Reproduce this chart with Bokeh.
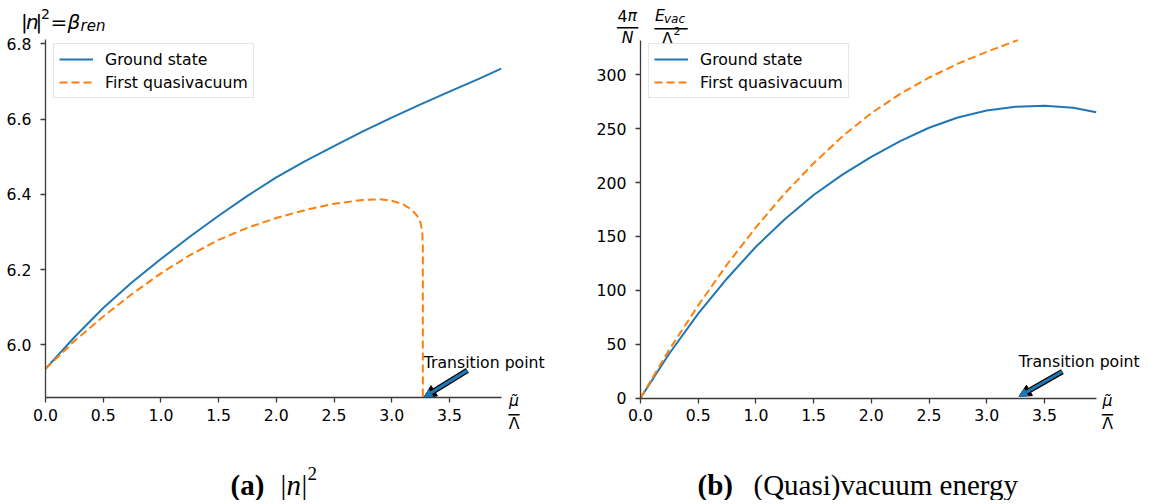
from bokeh.plotting import figure
from bokeh.layouts import row
from bokeh.models import (Range1d, FixedTicker, PrintfTickFormatter, Label, Arrow,
                          NormalHead, Legend, LegendItem, LinearAxis)
from bokeh.embed import file_html
from bokeh.resources import INLINE

# ---------------- data ----------------
series_names = ["Ground state", "First quasivacuum"]

# (a) |n|^2
mu_a_ground = [0.0, 0.25, 0.5, 0.75, 1.0, 1.25, 1.5, 1.75, 2.0, 2.25, 2.5, 2.75,
               3.0, 3.25, 3.5, 3.75, 3.949]
n2_ground = [5.936, 6.02, 6.098, 6.166, 6.228, 6.287, 6.343, 6.396, 6.445, 6.488,
             6.528, 6.567, 6.604, 6.639, 6.673, 6.706, 6.734]
mu_a_quasi = [0.0, 0.25, 0.5, 0.75, 1.0, 1.25, 1.5, 1.75, 2.0, 2.25, 2.5, 2.75,
              2.9, 3.0, 3.1, 3.17, 3.22, 3.25, 3.265, 3.27, 3.27]
n2_quasi = [5.936, 6.01, 6.075, 6.135, 6.19, 6.238, 6.279, 6.311, 6.337, 6.358,
            6.375, 6.385, 6.387, 6.383, 6.373, 6.36, 6.343, 6.325, 6.30, 6.26, 5.859]

# (b) (Quasi)vacuum energy
mu_b_ground = [0.0, 0.25, 0.5, 0.75, 1.0, 1.25, 1.5, 1.75, 2.0, 2.25, 2.5, 2.75,
               3.0, 3.25, 3.5, 3.75, 3.949]
e_ground = [0.0, 41.3, 78.3, 111.0, 140.5, 166.0, 188.5, 207.5, 224.0, 238.5,
            251.0, 260.5, 267.0, 270.5, 271.5, 269.5, 265.4]
mu_b_quasi = [0.0, 0.25, 0.5, 0.75, 1.0, 1.25, 1.5, 1.75, 2.0, 2.25, 2.5, 2.75,
              3.0, 3.27]
e_quasi = [0.0, 45.0, 86.0, 124.0, 158.5, 190.0, 218.0, 243.0, 264.5, 282.5,
           297.5, 310.5, 321.5, 332.4]

x_ticks = [0.0, 0.5, 1.0, 1.5, 2.0, 2.5, 3.0, 3.5]
a_y_ticks = [6.0, 6.2, 6.4, 6.6, 6.8]
b_y_ticks = [0, 50, 100, 150, 200, 250, 300]
x_bounds = (0.0, 3.949)
a_y_bounds = (5.859, 6.811)
b_y_bounds = (0.0, 332.1)

# transition point annotation (data coordinates)
trans_text_x = 3.278
trans_head_x = 3.28
trans_tail_x = 3.656
a_text_y, a_head_y, a_tail_y = 5.954, 5.861, 5.932
b_text_y, b_head_y, b_tail_y = 33.9, 1.5, 24.6

# ---------------- style / layout ----------------
BLUE = "#1f77b4"
ORANGE = "#ff7f0e"
FONT = "DejaVu Sans"
SERIF = "Liberation Serif"
FS = "15.7px"
AXC = "#3a3a3a"
H = 500
W1, W2 = 575, 574
CL1, CL2 = 0, 575          # page x of each canvas' left edge
SX = 115.4                  # px per unit of mu/Lambda


def x_range_for(cl, w, x0):
    return Range1d((cl - x0) / SX, (cl + w - x0) / SX)


def y_range_for(yref, py, s):
    return Range1d(yref + (py - H) / s, yref + py / s)


def make_fig(w, xr, yr, xloc, yloc, ybounds, yticks, yfmt):
    p = figure(width=w, height=H, x_range=xr, y_range=yr, output_backend="svg",
               toolbar_location=None, min_border=0, x_axis_location=None,
               y_axis_location=None)
    p.grid.visible = False
    p.outline_line_color = None
    xa = LinearAxis(fixed_location=xloc, bounds=x_bounds,
                    ticker=FixedTicker(ticks=x_ticks),
                    formatter=PrintfTickFormatter(format="%.1f"))
    ya = LinearAxis(fixed_location=yloc, bounds=ybounds,
                    ticker=FixedTicker(ticks=yticks),
                    formatter=PrintfTickFormatter(format=yfmt))
    for ax in (xa, ya):
        ax.axis_line_color = AXC
        ax.axis_line_width = 1.3
        ax.major_tick_line_color = AXC
        ax.major_tick_line_width = 1.3
        ax.major_tick_in = 0
        ax.major_tick_out = 5
        ax.minor_tick_line_color = None
        ax.major_label_text_font = FONT
        ax.major_label_text_font_size = FS
        ax.major_label_text_color = "black"
    xa.major_label_standoff = 6
    ya.major_label_standoff = 9
    p.add_layout(xa, "below")
    p.add_layout(ya, "left")
    return p


def add_lines(p, cl, legend_left, xg, yg, xq, yq):
    r1 = p.line(xg, yg, line_color=BLUE, line_width=2)
    r2 = p.line(xq, yq, line_color=ORANGE, line_width=2, line_dash="8 4")
    # tuple location = bottom-left corner of the legend box (frame px)
    leg = Legend(items=[LegendItem(label=series_names[0], renderers=[r1]),
                        LegendItem(label=series_names[1], renderers=[r2])],
                 location=(legend_left - cl, H - 98),
                 margin=0, padding=5, spacing=3,
                 glyph_width=34, glyph_height=20, label_height=20,
                 label_standoff=12, label_text_font=FONT,
                 label_text_font_size=FS, label_text_color="black",
                 border_line_color="#cccccc", border_line_width=1,
                 background_fill_alpha=0.8)
    p.add_layout(leg)


def lab(p, cl, text, px, py, size=FS, style="normal", font=FONT, align="left"):
    p.add_layout(Label(x=px - cl, y=H - py, x_units="screen", y_units="screen",
                       text=text, text_font=font, text_font_size=size,
                       text_font_style=style, text_align=align,
                       text_baseline="alphabetic", text_color="black"))


def transition(p, ty, hy, tly):
    p.add_layout(Label(x=trans_text_x, y=ty, text="Transition point",
                       text_font=FONT, text_font_size=FS, text_color="black",
                       text_baseline="alphabetic"))
    p.add_layout(Arrow(end=NormalHead(size=12, fill_color="black",
                                      line_color="black", line_width=1),
                       x_start=trans_tail_x, y_start=tly, x_end=trans_head_x,
                       y_end=hy, line_color="black", line_width=5.5))
    p.add_layout(Arrow(end=NormalHead(size=8, fill_color=BLUE,
                                      line_color=BLUE, line_width=1),
                       x_start=trans_tail_x, y_start=tly, x_end=trans_head_x,
                       y_end=hy, line_color=BLUE, line_width=3))


def xlabel(p, cl, cx):
    lab(p, cl, "\u03bc\u0303", cx, 399.5, style="italic", align="center")
    lab(p, cl, "\u2500", cx, 413.5, size="18px", font="DejaVu Sans Mono",
        align="center")
    lab(p, cl, "\u039b", cx, 422.5, align="center")


# ---------------- panel (a) ----------------
p1 = make_fig(W1, x_range_for(CL1, W1, 45.0), y_range_for(6.0, 344.3, 376.25),
              a_y_bounds[0], 0.0, a_y_bounds, a_y_ticks, "%.1f")
add_lines(p1, CL1, 53, mu_a_ground, n2_ground, mu_a_quasi, n2_quasi)
transition(p1, a_text_y, a_head_y, a_tail_y)
xlabel(p1, CL1, 513.5)
# y label |n|^2 = beta_ren
lab(p1, CL1, "|", 20.5, 21.5, size="20px")
lab(p1, CL1, "n", 25.5, 21.5, size="20px", style="italic")
lab(p1, CL1, "|", 35, 21.5, size="20px")
lab(p1, CL1, "2", 40.5, 13, size="14px")
lab(p1, CL1, "=", 50, 21.5, size="20px")
lab(p1, CL1, "\u03b2", 67, 21.5, size="20px", style="italic")
lab(p1, CL1, "ren", 80, 25.5, size="15px", style="italic")
# caption
lab(p1, CL1, "(a)", 230, 484, size="29px", style="bold", font=SERIF)
lab(p1, CL1, "|", 280, 484, size="29px", font=SERIF)
lab(p1, CL1, "n", 286, 484, size="29px", style="italic", font=SERIF)
lab(p1, CL1, "|", 301, 484, size="29px", font=SERIF)
lab(p1, CL1, "2", 307, 473, size="19px", font=SERIF)

# ---------------- panel (b) ----------------
p2 = make_fig(W2, x_range_for(CL2, W2, 640.0), y_range_for(0.0, 397.5, 1.0767),
              b_y_bounds[0], 0.0, b_y_bounds, b_y_ticks, "%d")
add_lines(p2, CL2, 648, mu_b_ground, e_ground, mu_b_quasi, e_quasi)
transition(p2, b_text_y, b_head_y, b_tail_y)
xlabel(p2, CL2, 1107)
# y label  4pi/N  E_vac/Lambda^2
lab(p2, CL2, "4", 617, 15)
lab(p2, CL2, "\u03c0", 627, 15, style="italic")
lab(p2, CL2, "\u2500\u2500", 627, 27, size="17.5px", font="DejaVu Sans Mono",
    align="center")
lab(p2, CL2, "N", 627, 37, style="italic", align="center")
lab(p2, CL2, "E", 654.5, 15, style="italic")
lab(p2, CL2, "vac", 663.5, 18.5, size="12px", style="italic")
lab(p2, CL2, "\u2500\u2500\u2500", 670.5, 28, size="18.3px",
    font="DejaVu Sans Mono", align="center")
lab(p2, CL2, "\u039b", 661.5, 38)
lab(p2, CL2, "2", 673, 30, size="11px")
# caption
lab(p2, CL2, "(b)", 697, 484, size="29px", style="bold", font=SERIF)
lab(p2, CL2, "(Quasi)vacuum energy", 753, 484, size="29px", font=SERIF)

layout = row(p1, p2)
open("out.html", "w").write(file_html(layout, INLINE))
